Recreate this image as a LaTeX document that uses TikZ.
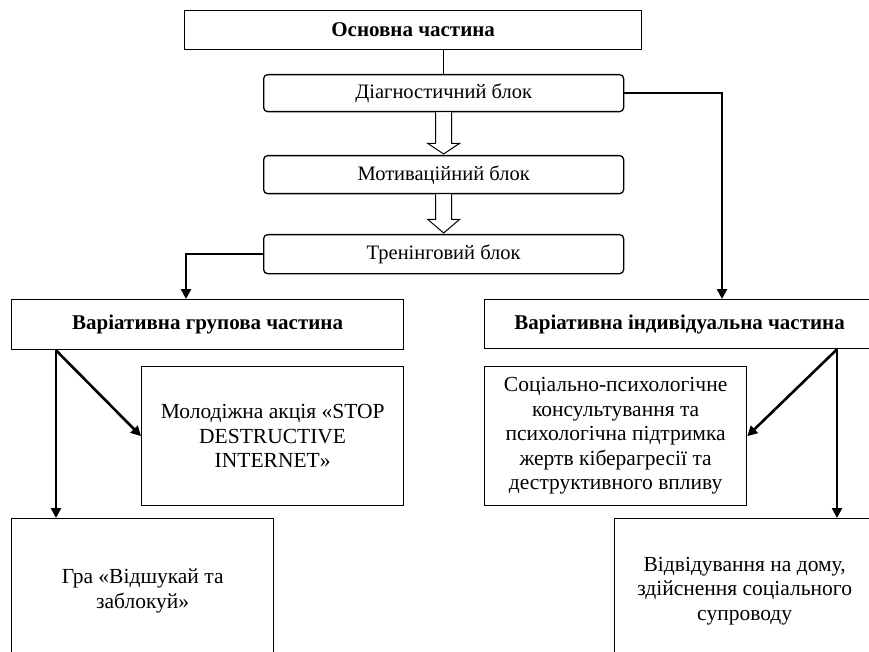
\documentclass[tikz,border=0pt]{standalone}
\usepackage{fontspec}
\setmainfont{Liberation Serif}
\usetikzlibrary{arrows.meta,calc}
\begin{document}
\begin{tikzpicture}[x=1pt,y=-1pt,
  box/.style={draw,line width=1.3pt,inner sep=0pt,align=center,anchor=north west},
  rbox/.style={box,rounded corners=4pt,font=\fontsize{20.5}{24}\selectfont},
  headbox/.style={box,font=\bfseries\fontsize{21}{24}\selectfont},
  bigbox/.style={box,font=\fontsize{21.5}{24.5}\selectfont},
  heavyarrow/.style={line width=2.6pt,-{Triangle[length=10pt,width=10pt]}},
  thinline/.style={line width=1pt},
  hollow/.style={line width=1pt,fill=white,line join=miter}]
\useasboundingbox (0,0) rectangle (869,652);
\clip (0,0) rectangle (869,652);
\node[headbox,minimum width=457,minimum height=39] (main) at (184,10) {Основна частина};
\node[rbox,minimum width=360,minimum height=37] (diag) at (263,74) {Діагностичний блок};
\node[rbox,minimum width=360,minimum height=38] (motiv) at (263,155) {Мотиваційний блок};
\node[rbox,minimum width=360,minimum height=39] (tren) at (263,234) {Тренінговий блок};
\node[headbox,minimum width=392,minimum height=50] (grp) at (11,299) {Варіативна групова частина};
\node[headbox,minimum width=390,minimum height=49] (ind) at (484,299) {Варіативна індивідуальна частина};
\node[bigbox,minimum width=262,minimum height=139] (mol) at (141,366) {Молодіжна акція «STOP\\DESTRUCTIVE\\INTERNET»};
\node[bigbox,minimum width=262,minimum height=139] (soc) at (484,366) {Соціально-психологічне\\консультування та\\психологічна підтримка\\жертв кіберагресії та\\деструктивного впливу};
\node[bigbox,minimum width=262,minimum height=145] (gra) at (11,518) {Гра «Відшукай та\\заблокуй»};
\node[bigbox,minimum width=260,minimum height=145] (vid) at (614,518) {Відвідування на дому,\\здійснення соціального\\супроводу};
% connectors
\draw[thinline] (diag.north |- main.south) -- (diag.north);
\draw[hollow] ($(diag.south)+(-8,0)$) -- ++(0,31) -- ++(-8,0) -- ($(motiv.north)+(0,-1)$) -- ($(diag.south)+(16,31)$) -- ++(-8,0) -- ($(diag.south)+(8,0)$);
\draw[hollow] ($(motiv.south)+(-8,0)$) -- ++(0,25) -- ++(-8,0) -- ($(tren.north)+(0,-1)$) -- ($(motiv.south)+(16,25)$) -- ++(-8,0) -- ($(motiv.south)+(8,0)$);
\coordinate (gin) at ($(grp.north west)+(175,0)$);
\draw[heavyarrow] (tren.west) -| (gin);
\coordinate (iin) at ($(ind.north west)+(238,0)$);
\draw[heavyarrow] (diag.east) -| (iin);
\coordinate (gout) at ($(grp.south west)+(45,0)$);
\coordinate (graIn) at ($(gra.north west)+(45,0)$);
\draw[heavyarrow] (gout) -- (mol.west);
\draw[heavyarrow] (gout) -- (graIn);
\coordinate (iout) at ($(ind.south west)+(353,0)$);
\coordinate (vidIn) at ($(vid.north west)+(223,0)$);
\draw[heavyarrow] (iout) -- (soc.east);
\draw[heavyarrow] (iout) -- (vidIn);
\end{tikzpicture}
\end{document}
